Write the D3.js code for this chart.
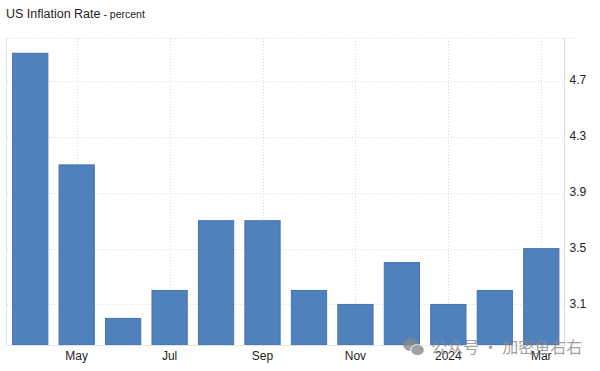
<!DOCTYPE html>
<html>
<head>
<meta charset="utf-8">
<script src="https://cdn.jsdelivr.net/npm/d3@7"></script>
<style>
    html, body { margin: 0; padding: 0; background: #fff; }
    svg { display: block; font-family: "Liberation Sans", Arial, sans-serif; }
</style>
</head>
<body>
<div id="chart"></div>
<script>
const months = ['Apr', 'May', 'Jun', 'Jul', 'Aug', 'Sep', 'Oct', 'Nov', 'Dec', '2024', 'Feb', 'Mar'];
const rates = [4.9, 4.1, 3.0, 3.2, 3.7, 3.7, 3.2, 3.1, 3.4, 3.1, 3.2, 3.5];
const xLabels = ['May', 'Jul', 'Sep', 'Nov', '2024', 'Mar'];
const yTicks = [3.1, 3.5, 3.9, 4.3, 4.7];

const width = 600, height = 371;
const plotLeft = 7, plotRight = 564.5, plotTop = 38, plotBottom = 345;

const svg = d3.select('#chart').append('svg')
    .attr('width', width)
    .attr('height', height);

// scales
const xScale = d3.scaleBand()
    .domain(months)
    .range([plotLeft, plotRight])
    .paddingInner(0.22)
    .paddingOuter(0.11);
const yScale = d3.scaleLinear()
    .domain([2.8, 5.0])
    .range([346.3, 39.3]);

// title
const title = svg.append('text')
    .attr('x', 6)
    .attr('y', 18)
    .attr('fill', '#222')
    .style('font-size', '12.5px')
    .text('US Inflation Rate');
title.append('tspan')
    .style('font-size', '10.5px')
    .text(' - percent');

// dotted grid
const grid = svg.append('g')
    .attr('stroke', '#dcdcdc')
    .attr('stroke-dasharray', '1,2');
grid.selectAll('.h')
    .data(yTicks)
    .enter()
    .append('line')
    .attr('x1', plotLeft)
    .attr('x2', plotRight)
    .attr('y1', d => Math.round(yScale(d)) + 0.5)
    .attr('y2', d => Math.round(yScale(d)) + 0.5);
grid.append('line')
    .attr('x1', plotLeft)
    .attr('x2', 575)
    .attr('y1', plotTop + 0.5)
    .attr('y2', plotTop + 0.5);
grid.selectAll('.v')
    .data(xLabels)
    .enter()
    .append('line')
    .attr('x1', d => Math.round(xScale(d) + xScale.bandwidth() / 2) + 0.5)
    .attr('x2', d => Math.round(xScale(d) + xScale.bandwidth() / 2) + 0.5)
    .attr('y1', plotTop)
    .attr('y2', plotBottom);

// frame lines
svg.append('line')
    .attr('x1', 6.5).attr('x2', 6.5)
    .attr('y1', plotTop).attr('y2', plotBottom)
    .attr('stroke', '#e4e4e4');

// bars
svg.append('g')
    .selectAll('rect')
    .data(rates)
    .enter()
    .append('rect')
    .attr('x', (d, i) => xScale(months[i]) + 0.5)
    .attr('y', d => yScale(d))
    .attr('width', xScale.bandwidth() - 1)
    .attr('height', d => plotBottom - yScale(d))
    .attr('fill', '#4f81bd')
    .attr('stroke', '#4474ad')
    .attr('stroke-width', 1);

// x axis
const xAxis = d3.axisBottom(xScale)
    .tickValues(xLabels)
    .tickSize(0)
    .tickPadding(6);
const xGroup = svg.append('g')
    .attr('transform', `translate(0, ${plotBottom})`)
    .call(xAxis);
xGroup.select('.domain').attr('stroke', '#e4e4e4');
xGroup.selectAll('text')
    .attr('fill', '#222')
    .style('font-size', '12px');

// y axis
const yAxis = d3.axisRight(yScale)
    .tickValues(yTicks)
    .tickFormat(d3.format('.1f'))
    .tickSize(0)
    .tickPadding(5);
const yGroup = svg.append('g')
    .attr('transform', `translate(${plotRight}, 0)`)
    .call(yAxis);
yGroup.select('.domain').remove();
svg.append('line')
    .attr('x1', plotRight).attr('x2', plotRight)
    .attr('y1', plotTop).attr('y2', plotBottom)
    .attr('stroke', '#dcdcdc');
yGroup.selectAll('text')
    .attr('dy', '0.22em')
    .attr('fill', '#222')
    .style('font-size', '12px');

// watermark
const mark = svg.append('g').attr('fill', '#8a8a8a').attr('opacity', 0.8);
mark.append('ellipse').attr('cx', 410.5).attr('cy', 344.5).attr('rx', 7.5).attr('ry', 6.5);
mark.append('ellipse').attr('cx', 417.5).attr('cy', 350).attr('rx', 6.8).attr('ry', 5.5)
    .attr('stroke', '#fff');
mark.append('text')
    .attr('x', 431)
    .attr('y', 353)
    .style('font-family', '"Noto Sans CJK SC", sans-serif')
    .style('font-size', '16px')
    .text('公众号 · 加密鱼右右');
</script>
</body>
</html>
